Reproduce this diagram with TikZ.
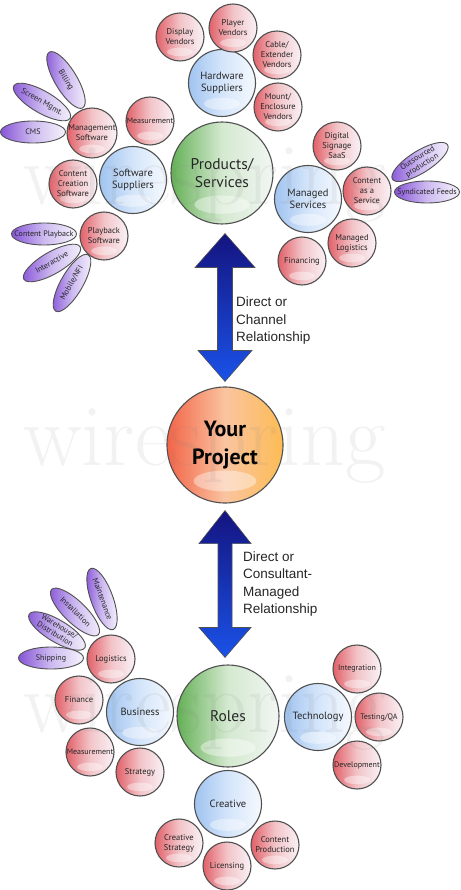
\documentclass[tikz,border=0pt]{standalone}
\usepackage{fontspec}
\newfontfamily\lab{PT Sans}
\newfontfamily\arialf{Liberation Sans}
\usetikzlibrary{shapes.geometric,calc}
\definecolor{redL}{RGB}{226,96,104}
\definecolor{redM}{RGB}{242,196,200}
\definecolor{redR}{RGB}{249,242,247}
\definecolor{bluL}{RGB}{160,195,240}
\definecolor{bluM}{RGB}{212,229,250}
\definecolor{bluR}{RGB}{246,249,254}
\definecolor{grnL}{RGB}{100,176,86}
\definecolor{grnM}{RGB}{212,233,208}
\definecolor{grnR}{RGB}{242,246,243}
\definecolor{purL}{RGB}{135,85,215}
\definecolor{purM}{RGB}{205,186,240}
\definecolor{purR}{RGB}{246,243,252}
\definecolor{orL}{RGB}{242,100,72}
\definecolor{orM}{RGB}{250,196,160}
\definecolor{orR}{RGB}{253,188,84}
\definecolor{arTop}{RGB}{20,20,128}
\definecolor{arBot}{RGB}{26,82,232}
\definecolor{edge}{RGB}{80,80,80}
\newcommand\et[1]{\makebox[0pt]{\raisebox{-0.27em}[0pt][0pt]{#1}}}
\newcommand\ettwo[2]{\et{\begin{tabular}{@{}c@{}}#1\\[-0.5pt]#2\end{tabular}}}
\begin{document}
\begin{tikzpicture}[x=1pt,y=-1pt,
  hl/.style={path picture={\fill[white,opacity=0.4] ([yshift=#1*0.19pt]path picture bounding box.south) ellipse [x radius=#1*0.27pt, y radius=#1*0.09pt];}},
  base/.style={circle,draw=edge,line width=1.1pt,inner sep=0pt,align=center,text=black!85},
  smallc/.style={base,minimum size=48pt,left color=redL,right color=redR,middle color=redM,hl=48,font=\lab\fontsize{8.5}{10}\selectfont},
  tiny/.style={font=\lab\fontsize{8}{9}\selectfont},
  midc/.style={base,minimum size=67pt,left color=bluL,right color=bluR,middle color=bluM,hl=67,font=\lab\fontsize{10.5}{12.5}\selectfont},
  bigc/.style={base,minimum size=102pt,left color=grnL,right color=grnR,middle color=grnM,hl=102,font=\lab\fontsize{15.5}{18.5}\selectfont},
  projc/.style={base,minimum size=116pt,left color=orL,right color=orR,middle color=orM,hl=116,font=\lab\bfseries\fontsize{22}{28}\selectfont,text=black},
  ell/.style={ellipse,draw=edge,line width=0.9pt,inner sep=0pt,minimum width=65pt,minimum height=22pt,left color=purL,right color=purR,middle color=purM,font=\lab\fontsize{8}{9}\selectfont,text=black!85},
  arrowfill/.style={top color=arTop,bottom color=arBot,draw=edge,line width=0.6pt},
  reltext/.style={font=\arialf\fontsize{13.5}{17.5}\selectfont,align=left,inner sep=0pt,text=black!85},
  wm/.style={font=\rmfamily\fontsize{88}{88}\selectfont,text=gray,text opacity=0.1,inner sep=0pt,anchor=base west}
]
\useasboundingbox (0,0) rectangle (460,890);
\fill[white] (0,0) rectangle (460,890);

% ---------- top cluster ----------
\node[bigc] (ps) at (222,173) {Products/\\Services};
\node[midc] (hw) at (222,83) {Hardware\\Suppliers};
\node[midc] (sw) at (133,180) {Software\\Suppliers};
\node[midc] (ms) at (308,199) {Managed\\Services};

\node[smallc] (dv) at (180,37) {Display\\Vendors};
\node[smallc] (pv) at (233,28) {Player\\Vendors};
\node[smallc] (cv) at (277,55) {Cable/\\Extender\\Vendors};
\node[smallc] (mv) at (278,107) {Mount/\\Enclosure\\Vendors};
\node[smallc,tiny] (meas) at (150,121) {Measurement};
\node[smallc] (mgs) at (92,133) {Management\\Software};
\node[smallc] (ccs) at (73,184) {Content\\Creation\\Software};
\node[smallc] (pbs) at (104,236) {Playback\\Software};
\node[smallc] (dss) at (337,146) {Digital\\Signage\\SaaS};
\node[smallc] (caas) at (367,191) {Content\\as a\\Service};
\node[smallc] (ml) at (352,243) {Managed\\Logistics};
\node[smallc] (fin) at (302,261) {Financing};

\node[ell,rotate=-59] (bill) at (66,80) {\et{Billing}};
\node[ell,rotate=-30] (scr) at (42,102) {\et{Screen Mgmt.}};
\node[ell] (cms) at (33,132) {\et{CMS}};
\node[ell] (cpb) at (44,234) {\et{Content Playback}};
\node[ell,rotate=30] (inter) at (52,263) {\et{Interactive}};
\node[ell,rotate=60] (mob) at (72,283) {\et{Mobile/NFI}};
\node[ell,rotate=32] (outs) at (420,162) {\ettwo{Outsourced}{production}};
\node[ell] (synd) at (427,192) {\et{Syndicated Feeds}};

% ---------- centre ----------
\node[projc] (yp) at (225,445) {Your\\Project};

\path[arrowfill] let \p1=([yshift=-9pt]ps.south), \p2=([yshift=5pt]yp.north) in
  (\x2,\y1) -- (\x2+30pt,\y1-34pt) -- (\x2+7.5pt,\y1-34pt) -- (\x2+7.5pt,\y2+31pt)
  -- (\x2+27pt,\y2+31pt) -- (\x2,\y2) -- (\x2-27pt,\y2+31pt) -- (\x2-7.5pt,\y2+31pt)
  -- (\x2-7.5pt,\y1-34pt) -- (\x2-30pt,\y1-34pt) -- cycle;
\node[reltext,anchor=west] (t1) at (236,321) {Direct or\\Channel\\Relationship};

% ---------- bottom cluster ----------
\node[bigc] (roles) at (228,716) {Roles};

\path[arrowfill] let \p1=([yshift=-7pt]yp.south), \p2=([yshift=7pt]roles.north) in
  (\x1,\y1) -- (\x1+26pt,\y1-33pt) -- (\x1+7pt,\y1-33pt) -- (\x1+7pt,\y2+30pt)
  -- (\x1+26pt,\y2+30pt) -- (\x1,\y2) -- (\x1-26pt,\y2+30pt) -- (\x1-7pt,\y2+30pt)
  -- (\x1-7pt,\y1-33pt) -- (\x1-26pt,\y1-33pt) -- cycle;
\node[reltext,anchor=west] (t2) at (243,584) {Direct or\\Consultant-\\Managed\\Relationship};

\node[midc] (bus) at (140,712) {Business};
\node[midc] (tech) at (318,717) {Technology};
\node[midc] (cre) at (228,804) {Creative};

\node[smallc] (log) at (111,659) {Logistics};
\node[smallc] (finan) at (79,700) {Finance};
\node[smallc,tiny] (meas2) at (90,752) {Measurement};
\node[smallc] (strat) at (140,772) {Strategy};
\node[smallc] (cs) at (179,843) {Creative\\Strategy};
\node[smallc] (lic) at (227,866) {Licensing};
\node[smallc] (cp) at (275,845) {Content\\Production};
\node[smallc,tiny] (integ) at (357,669) {Integration};
\node[smallc,tiny] (tqa) at (379,717) {Testing/QA};
\node[smallc,tiny] (dev) at (357,765) {Development};

\node[ell] (ship) at (51,658) {\et{Shipping}};
\node[ell,rotate=-31] (ware) at (57,631) {\ettwo{Warehouse/}{Distribution}};
\node[ell,rotate=-44] (inst) at (75,612) {\et{Installation}};
\node[ell,rotate=-70] (maint) at (102,599) {\et{Maintenance}};

% ---------- watermark ----------
\node[wm] (wm1) at (23,205) {wirespring};
\node[wm] (wm2) at (23,465) {wirespring};
\node[wm] (wm3) at (23,732) {wirespring};
\end{tikzpicture}
\end{document}
